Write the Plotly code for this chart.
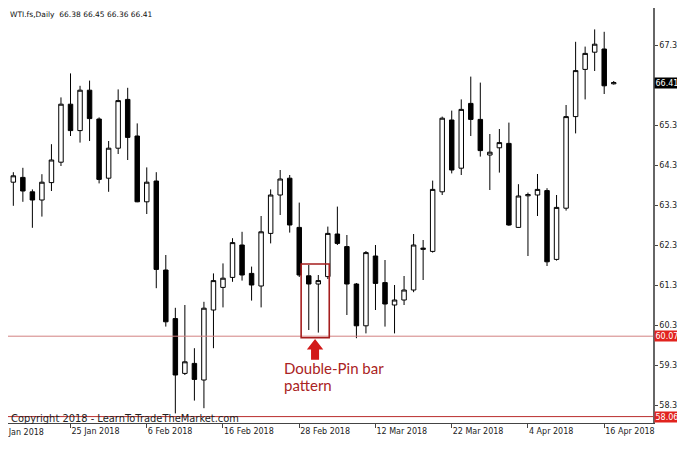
import pandas as pd
import plotly.graph_objects as go

# Trading days shown (business days, Good Friday 30 Mar 2018 closed)
dates = [d for d in pd.bdate_range("2018-01-16", "2018-04-17") if d != pd.Timestamp("2018-03-30")]

open_ = [63.88, 63.92, 64.04, 63.68, 63.475, 63.91, 64.42, 65.87, 65.21, 66.22,
         65.50, 64.02, 64.77, 65.99, 65.075, 63.43, 63.95, 61.725, 60.51, 59.14,
         59.39, 58.975, 60.725, 61.29, 61.54, 62.35, 61.64, 61.325, 62.64, 63.60,
         64.02, 62.79, 61.58, 61.375, 61.56, 62.625, 62.31, 61.375, 60.33, 62.075,
         61.41, 60.85, 60.975, 61.225, 62.24, 62.19, 63.68, 65.475, 64.27, 65.89,
         65.49, 64.60, 64.78, 64.89, 62.79, 63.58, 63.60, 63.71, 61.99, 63.27,
         65.56, 66.74, 67.17, 67.25, 66.38]
high = [64.85, 64.17, 64.28, 63.74, 64.12, 64.87, 66.04, 66.64, 66.33, 66.46,
        65.54, 64.95, 66.24, 66.28, 65.39, 64.29, 64.17, 62.10, 60.78, 60.85,
        59.77, 60.93, 61.64, 61.89, 62.52, 62.68, 61.81, 63.075, 63.74, 64.225,
        64.10, 63.41, 61.85, 61.60, 62.81, 63.31, 62.60, 61.40, 62.20, 62.35,
        61.975, 61.35, 61.575, 62.625, 62.475, 63.96, 65.56, 65.71, 65.99, 66.56,
        66.41, 65.125, 65.25, 65.41, 63.87, 63.66, 64.125, 63.77, 63.60, 65.85,
        67.43, 67.31, 67.74, 67.68, 66.45]
low = [63.85, 63.33, 63.43, 62.78, 63.06, 63.70, 64.325, 65.075, 64.91, 64.95,
       63.89, 63.68, 64.625, 64.475, 63.42, 63.125, 61.27, 60.31, 58.14, 59.10,
       58.46, 58.27, 59.77, 60.79, 61.43, 61.46, 60.96, 60.79, 62.39, 63.10,
       62.66, 61.55, 60.225, 60.16, 61.50, 62.35, 60.60, 60.02, 60.14, 60.725,
       60.31, 60.14, 60.85, 61.17, 61.475, 62.16, 63.60, 64.14, 64.10, 65.075,
       64.56, 63.725, 64.16, 62.83, 62.78, 62.075, 63.075, 61.825, 61.96, 63.21,
       65.14, 65.99, 66.70, 66.125, 66.36]
close = [64.80, 64.08, 63.70, 63.475, 63.92, 64.475, 65.87, 65.21, 66.22, 65.51,
         63.99, 64.77, 65.96, 65.04, 63.43, 63.92, 61.74, 60.43, 59.10, 59.43,
         58.99, 60.77, 61.46, 61.52, 62.41, 61.60, 61.35, 62.68, 63.60, 64.00,
         62.85, 61.60, 61.375, 61.46, 62.64, 62.39, 61.375, 60.33, 62.16, 61.39,
         60.875, 60.975, 61.225, 62.35, 62.27, 63.74, 65.52, 64.225, 65.74, 65.49,
         64.71, 64.67, 64.91, 62.85, 63.575, 63.61, 63.74, 61.93, 63.29, 65.56,
         66.71, 67.14, 67.37, 66.33, 66.41]

price_ticks = [58.35, 59.35, 60.35, 61.35, 62.35, 63.35, 64.35, 65.35, 67.35]
date_ticks = ["2018-01-25", "2018-02-06", "2018-02-16", "2018-02-28",
              "2018-03-12", "2018-03-22", "2018-04-04", "2018-04-16"]

support_level = 60.07
low_level = 58.06
last_price = 66.41

idx = list(range(len(dates)))
date_strs = [d.strftime("%Y-%m-%d") for d in dates]
tick_idx = [date_strs.index(d) for d in date_ticks]
tick_txt = [dates[i].strftime("%-d %b %Y") for i in tick_idx]

# page body adds an 8px offset; figure sized to fit the window
FIG_W, FIG_H = 677, 442
W_PLOT, H_PLOT = 645, 415

fig = go.Figure(go.Candlestick(
    x=idx, open=open_, high=high, low=low, close=close,
    increasing=dict(line=dict(color="black", width=1), fillcolor="white"),
    decreasing=dict(line=dict(color="black", width=1), fillcolor="black"),
    whiskerwidth=0, hoverinfo="skip", showlegend=False,
))

fig.add_hline(y=support_level, line=dict(color="rgb(210,130,130)", width=1))
fig.add_hline(y=low_level, line=dict(color="rgb(185,45,45)", width=1))

# highlight box around the two pin bars
fig.add_shape(type="rect", xref="x", yref="y", x0=31.2, x1=34.15, y0=60.03, y1=61.875,
              line=dict(color="rgb(165,30,30)", width=1.6), fillcolor="rgba(0,0,0,0)")
# up arrow
fig.add_shape(type="path", xref="x", yref="y",
              path="M 32.66 60.0 L 33.52 59.74 L 33.08 59.74 L 33.08 59.48 "
                   "L 32.24 59.48 L 32.24 59.74 L 31.80 59.74 Z",
              fillcolor="rgb(210,25,25)", line=dict(width=0))

ann_font = dict(family="Lato", size=15, color="rgb(170,35,35)")
fig.add_annotation(x=29.19, y=59.275, xref="x", yref="y", text="Double-Pin bar",
                   showarrow=False, xanchor="left", yanchor="middle", font=ann_font)
fig.add_annotation(x=29.19, y=58.84, xref="x", yref="y", text="pattern",
                   showarrow=False, xanchor="left", yanchor="middle", font=ann_font)

fig.add_annotation(x=0, y=(H_PLOT - 6) / H_PLOT, xref="paper", yref="paper",
                   text="WTI.fs,Daily  66.38 66.45 66.36 66.41", showarrow=False,
                   xanchor="left", yanchor="middle",
                   font=dict(family="DejaVu Sans", size=7.5, color="#111"))
fig.add_annotation(x=1 / W_PLOT, y=5 / H_PLOT, xref="paper", yref="paper",
                   text="Copyright 2018 - LearnToTradeTheMarket.com", showarrow=False,
                   xanchor="left", yanchor="middle",
                   font=dict(family="DejaVu Sans", size=9.9, color="#222"))
fig.add_annotation(x=-14 / W_PLOT, y=-9 / H_PLOT, xref="paper", yref="paper", text="15 Jan 2018",
                   showarrow=False, xanchor="left", yanchor="middle",
                   font=dict(family="DejaVu Sans", size=8, color="#222"))

for val, bg in [(last_price, "black"), (support_level, "rgb(225,35,30)"), (low_level, "rgb(225,35,30)")]:
    fig.add_annotation(x=1.0 + 1 / W_PLOT, y=val, xref="paper", yref="y", text=f"{val:.2f}",
                       showarrow=False, xanchor="left", yanchor="middle", bgcolor=bg,
                       borderpad=0.5, font=dict(family="DejaVu Sans", size=8, color="white"))

fig.update_layout(
    width=FIG_W, height=FIG_H,
    margin=dict(l=0, r=FIG_W - W_PLOT, t=0, b=FIG_H - H_PLOT, autoexpand=False),
    paper_bgcolor="white", plot_bgcolor="white",
    showlegend=False, boxgap=0.33,
    xaxis=dict(range=[0.441, 68.12], rangeslider=dict(visible=False), showgrid=False,
               zeroline=False, showline=True, linecolor="#444", linewidth=1,
               ticks="outside", ticklen=4, tickcolor="#444", automargin=False,
               tickvals=tick_idx, ticktext=tick_txt, ticklabelposition="outside right",
               tickfont=dict(family="DejaVu Sans", size=8, color="#222")),
    yaxis=dict(side="right", range=[57.9, 68.275], showgrid=False, zeroline=False,
               showline=True, linecolor="#666", linewidth=1.5, automargin=False,
               ticks="outside", ticklen=3, tickcolor="#444",
               tickvals=price_ticks, ticktext=[f"{t:.2f}" for t in price_ticks],
               tickfont=dict(family="DejaVu Sans", size=8, color="#222")),
)

fig.write_html("out.html")
